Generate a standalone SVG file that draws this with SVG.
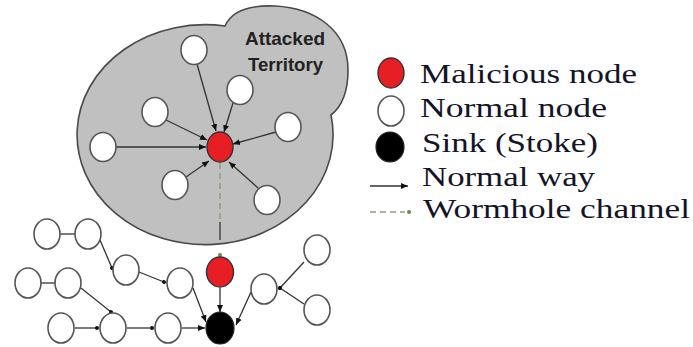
<svg xmlns="http://www.w3.org/2000/svg" width="693" height="347" viewBox="0 0 693 347">
<defs>
<marker id="ah" markerUnits="userSpaceOnUse" markerWidth="8" markerHeight="8" viewBox="0 0 8 8" refX="7" refY="4" orient="auto"><path d="M0,1 L7,4 L0,7 Z" fill="#111"/></marker>
<marker id="dot" markerUnits="userSpaceOnUse" markerWidth="6" markerHeight="6" viewBox="0 0 6 6" refX="3" refY="3" orient="auto"><circle cx="3" cy="3" r="2" fill="#111"/></marker>
</defs>
<style>
.n{fill:#fff;stroke:#555;stroke-width:1.6}
.m{fill:#e81e25;stroke:#333;stroke-width:1.4}
.s{fill:#000;stroke:#222;stroke-width:1.2}
.e{stroke:#333;stroke-width:1.3;fill:none}
.a{marker-end:url(#ah)}
.d{marker-end:url(#dot)}
.w{stroke:#8fa077;stroke-width:1.6;stroke-dasharray:6,4;fill:none}
.lg{font-family:'Liberation Serif','DejaVu Serif','Times New Roman',serif;font-size:28px;fill:#141428}
</style>
<rect width="693" height="347" fill="#fff"/>
<g id="territory">
<path d="M225,26 C232,10 250,5 275,6 C315,8 348,30 348,70 C348,95 340,108 331,115 A128,110 0 1,1 225,26 Z" fill="#c0c0c0" stroke="#4a4a4a" stroke-width="1.6"/>
<text font-family="Liberation Sans, Arial, sans-serif" font-weight="bold" font-size="19" fill="#222" x="245" y="45" textLength="80" lengthAdjust="spacingAndGlyphs">Attacked</text>
<text font-family="Liberation Sans, Arial, sans-serif" font-weight="bold" font-size="19" fill="#222" x="248" y="71" textLength="75" lengthAdjust="spacingAndGlyphs">Territory</text>
</g>
<g id="connectors">
<line class="e a" x1="197" y1="64" x2="216" y2="131"/>
<line class="e a" x1="233" y1="103" x2="224" y2="132"/>
<line class="e a" x1="166" y1="120" x2="207" y2="140"/>
<line class="e a" x1="276" y1="132" x2="233" y2="144"/>
<line class="e a" x1="116" y1="147" x2="206" y2="147"/>
<line class="e a" x1="186" y1="177" x2="209" y2="161"/>
<line class="e a" x1="258" y1="188" x2="229" y2="162"/>
<line class="w" x1="220" y1="163" x2="220" y2="222"/>
<line class="e" x1="220" y1="222" x2="220" y2="240"/>
<circle cx="220" cy="255" r="2" fill="#6f8a4a"/>
<line class="e" x1="60" y1="234" x2="75" y2="234"/>
<line class="e d" x1="100" y1="240" x2="112" y2="268"/>
<line class="e d" x1="139" y1="272" x2="164" y2="282"/>
<line class="e a" x1="193" y1="288" x2="206" y2="322"/>
<line class="e" x1="41" y1="283" x2="55" y2="283"/>
<line class="e d" x1="81" y1="288" x2="111" y2="312"/>
<line class="e d" x1="75" y1="328" x2="97" y2="328"/>
<line class="e d" x1="127" y1="328" x2="152" y2="328"/>
<line class="e a" x1="182" y1="328" x2="205" y2="328"/>
<line class="e a" x1="220" y1="288" x2="220" y2="312"/>
<line class="e a" x1="251" y1="292" x2="236" y2="325"/>
<line class="e d" x1="304" y1="262" x2="280" y2="288"/>
<line class="e d" x1="304" y1="304" x2="280" y2="288"/>
</g>
<g id="node-t1"><ellipse class="n" cx="194" cy="50" rx="13" ry="14.5"/></g>
<g id="node-t2"><ellipse class="n" cx="240" cy="90" rx="13" ry="14.5"/></g>
<g id="node-t3"><ellipse class="n" cx="155" cy="112" rx="13" ry="14.5"/></g>
<g id="node-t4"><ellipse class="n" cx="288" cy="127" rx="13" ry="14.5"/></g>
<g id="node-t5"><ellipse class="n" cx="103" cy="147" rx="13" ry="14.5"/></g>
<g id="node-t6"><ellipse class="n" cx="175" cy="185" rx="13" ry="14.5"/></g>
<g id="node-t7"><ellipse class="n" cx="267" cy="200" rx="13" ry="14.5"/></g>
<g id="malicious-top"><ellipse class="m" cx="220" cy="147" rx="13" ry="15"/></g>
<g id="node-a"><ellipse class="n" cx="47" cy="234" rx="13" ry="15"/></g>
<g id="node-b"><ellipse class="n" cx="88" cy="234" rx="13" ry="15"/></g>
<g id="node-c"><ellipse class="n" cx="126" cy="270" rx="13" ry="15"/></g>
<g id="node-d"><ellipse class="n" cx="180" cy="283" rx="13" ry="15"/></g>
<g id="node-e"><ellipse class="n" cx="28" cy="283" rx="13" ry="15"/></g>
<g id="node-f"><ellipse class="n" cx="68" cy="283" rx="13" ry="15"/></g>
<g id="node-g"><ellipse class="n" cx="61" cy="328" rx="13" ry="15"/></g>
<g id="node-h"><ellipse class="n" cx="113" cy="328" rx="13" ry="15"/></g>
<g id="node-i"><ellipse class="n" cx="168" cy="328" rx="13" ry="15"/></g>
<g id="node-j"><ellipse class="n" cx="264" cy="289" rx="13" ry="15"/></g>
<g id="node-k"><ellipse class="n" cx="317" cy="250" rx="13" ry="15"/></g>
<g id="node-l"><ellipse class="n" cx="317" cy="310" rx="13" ry="15"/></g>
<g id="malicious-bottom"><ellipse class="m" cx="220" cy="272" rx="13.5" ry="15"/></g>
<g id="sink"><ellipse class="s" cx="220" cy="328" rx="14" ry="16"/></g>
<g id="legend">
<ellipse class="m" cx="391" cy="73" rx="13" ry="15"/>
<ellipse class="n" cx="391" cy="111" rx="13" ry="15"/>
<ellipse class="s" cx="390" cy="147" rx="14" ry="15"/>
<line class="e a" x1="370" y1="186" x2="408" y2="186"/>
<line class="w" x1="370" y1="212" x2="405" y2="212" stroke-dasharray="7,5"/>
<circle cx="409" cy="212" r="2" fill="#6f8a4a"/>
<text class="lg" x="420" y="83" textLength="217" lengthAdjust="spacingAndGlyphs">Malicious node</text>
<text class="lg" x="420" y="117" textLength="187" lengthAdjust="spacingAndGlyphs">Normal node</text>
<text class="lg" x="422" y="152" textLength="176" lengthAdjust="spacingAndGlyphs">Sink (Stoke)</text>
<text class="lg" x="422" y="186" textLength="173" lengthAdjust="spacingAndGlyphs">Normal way</text>
<text class="lg" x="423" y="218" textLength="267" lengthAdjust="spacingAndGlyphs">Wormhole channel</text>
</g>
</svg>
